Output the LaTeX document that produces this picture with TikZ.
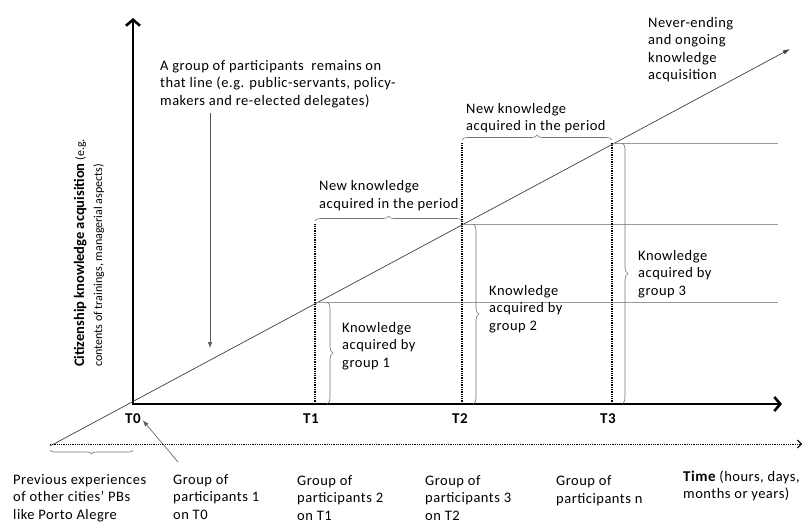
\documentclass[tikz,border=0pt]{standalone}
\usepackage{fontspec}
\setmainfont{Carlito}[LetterSpace=3.5]
\newfontfamily\plainfont{Carlito}
\usetikzlibrary{arrows.meta, decorations.pathreplacing}

\begin{document}
\begin{tikzpicture}[x=1pt, y=-1pt,
  txt/.style={anchor=base west, inner sep=0pt, align=left, font=\fontsize{14.5}{17.5}\selectfont},
  tlabel/.style={anchor=base, inner sep=0pt, font=\fontsize{15}{17}\selectfont\bfseries},
  kbrace/.style={decorate, decoration={brace, amplitude=#1}, draw=black!55, line width=0.6pt},
  kbrace/.default=5pt,
  level/.style={draw=black!40, line width=0.6pt},
  tdots/.style={line width=1.8pt, dash pattern=on 1.3pt off 1pt},
  thin arrow/.style={draw=black!65, line width=0.6pt, -{Latex[length=6pt,width=4.5pt]}}]
\useasboundingbox (0,0) rectangle (805,523);

% axes
\coordinate (o) at (133,404);
\coordinate (ytop) at (133,18);
\coordinate (xend) at (782,404);
\draw[line width=2.6pt, line join=miter, {Straight Barb[length=6pt,width=14pt]}-{Straight Barb[length=6pt,width=14pt]}] (ytop) -- (o) -- (xend);

% time line below the axis
\coordinate (prev) at (50,444);
\coordinate (tend) at (802,444);
\draw[line width=1pt, dash pattern=on 1pt off 0.8pt, -{Straight Barb[length=4pt,width=8pt]}] (prev) -- (tend);
\draw[kbrace=4pt] (133,450) -- (50,450);

% knowledge line
\coordinate (dstart) at (50,446);
\coordinate (dend) at (790,49);
\draw[draw=black!75, line width=0.7pt, -{Latex[length=7pt,width=4.5pt]}] (dstart) -- (dend);

\coordinate (p1) at (315,302);
\coordinate (p2) at (462,224);
\coordinate (p3) at (612,143);

\foreach \p in {p1, p2, p3}
    \draw[level] (\p) -- (778,0 |- \p);

% periods
\draw[tdots] (315,404) -- (315,224);
\draw[tdots] (462,404) -- (462,142);
\draw[tdots] (612,404) -- (p3);

\node[tlabel] (T0) at (133,423) {T0};
\node[tlabel] (T1) at (311,423) {T1};
\node[tlabel] (T2) at (460,423) {T2};
\node[tlabel] (T3) at (608,423) {T3};

% braces
\draw[kbrace] (315,221) -- (462,221);
\draw[kbrace] (462,140) -- (612,140);
\draw[kbrace=6pt] (327,302) -- (327,404);
\draw[kbrace=6pt] (473,224) -- (473,404);
\draw[kbrace=6pt] (622,143) -- (622,404);

% texts in the chart (base = last line)
\node[txt] (remain) at (160,105) {A group of participants\ \ remains on\\that line (e.g. public-servants, policy-\\makers and re-elected delegates)};
\coordinate (remtop) at (210,113);
\coordinate (remend) at (210,348);
\draw[thin arrow] (remtop) -- (remend);

\node[txt] (new1) at (319,208) {New knowledge\\acquired in the period};
\node[txt] (new2) at (466,130.5) {New knowledge\\acquired in the period};
\node[txt] (never) at (648,79.5) {Never-ending\\and ongoing\\knowledge\\acquisition};

\node[txt] (grp1) at (342,367) {Knowledge\\acquired by\\group 1};
\node[txt] (grp2) at (489,330) {Knowledge\\acquired by\\group 2};
\node[txt] (grp3) at (638,295) {Knowledge\\acquired by\\group 3};

% y axis label
\node[anchor=base west, inner sep=0pt, rotate=90, align=left, font=\plainfont\fontsize{12}{18}\selectfont] (ylab) at (102,367)
  {{\fontsize{14.5}{18}\selectfont\bfseries Citizenship knowledge acquisition} (e.g.\\contents of trainings, managerial aspects)};

% texts below the time line
\node[txt] (prevtxt) at (13,519) {Previous experiences\\of other cities’ PBs\\like Porto Alegre};
\node[txt] (part1) at (173,519) {Group of\\participants 1\\on T0};
\node[txt] (part2) at (297,520) {Group of\\participants 2\\on T1};
\node[txt] (part3) at (425,520) {Group of\\participants 3\\on T2};
\node[txt] (partn) at (556,503) {Group of\\participants n};
\node[txt] (time) at (683,498.5) {{\fontsize{15}{17}\selectfont\bfseries Time} (hours, days,\\months or years)};

\coordinate (part1top) at (178,462);
\draw[thin arrow, shorten >=3pt] (part1top) -- (T0.east);
\end{tikzpicture}
\end{document}
